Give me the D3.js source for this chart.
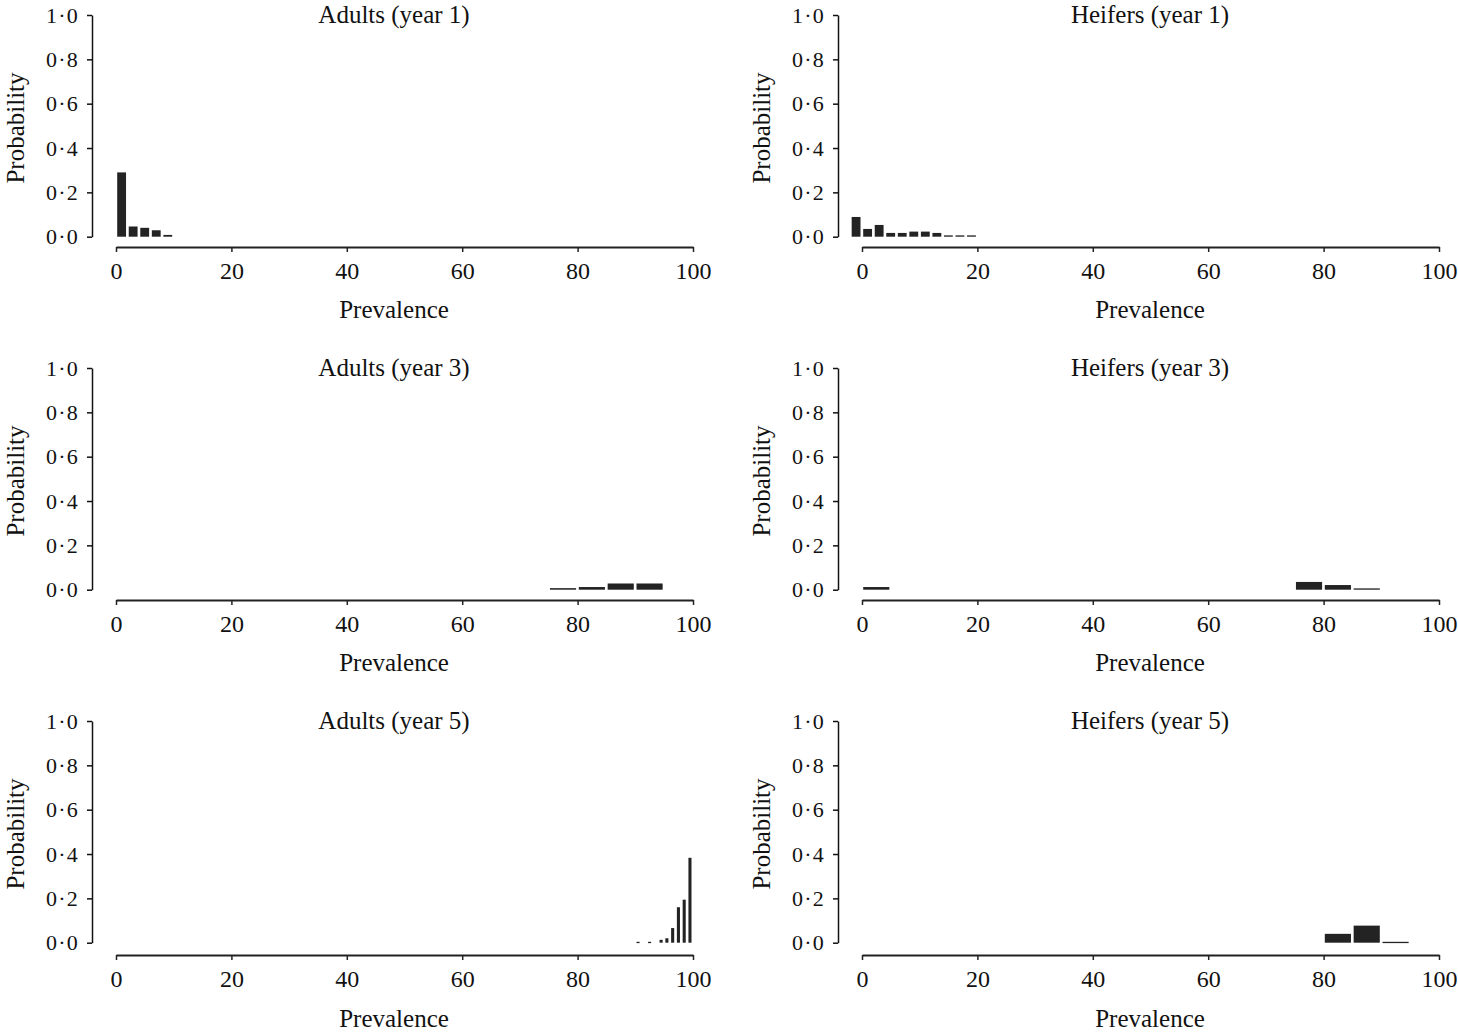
<!DOCTYPE html>
<html>
<head>
<meta charset="utf-8">
<script src="https://cdn.jsdelivr.net/npm/d3@7"></script>
<style>
  body { margin: 0; background: #fff; }
  text { font-family: "Liberation Serif", "Times New Roman", serif; fill: #111; }
</style>
</head>
<body>
<div class="wrapper"></div>
<script>
// bin start (prevalence %), bin width, probability
var adultsY1Bins = [0, 2, 4, 6, 8],
    adultsY1Prob = [0.29, 0.046, 0.04, 0.029, 0.008];
var heifersY1Bins = [-2, 0, 2, 4, 6, 8, 10, 12, 14, 16, 18],
    heifersY1Prob = [0.089, 0.035, 0.053, 0.017, 0.017, 0.023, 0.023, 0.017, 0.006, 0.006, 0.006];
var adultsY3Bins = [75, 80, 85, 90],
    adultsY3Prob = [0.007, 0.012, 0.028, 0.028];
var heifersY3Bins = [0, 75, 80, 85],
    heifersY3Prob = [0.012, 0.035, 0.021, 0.006];
var adultsY5Bins = [90, 92, 94, 95, 96, 97, 98, 99],
    adultsY5Prob = [0.004, 0.004, 0.013, 0.02, 0.066, 0.16, 0.194, 0.383];
var heifersY5Bins = [80, 85, 90],
    heifersY5Prob = [0.04, 0.077, 0.004];

var binWidths = [2, 2, 5, 5, 1, 5];
var titles = ["Adults (year 1)", "Heifers (year 1)", "Adults (year 3)",
              "Heifers (year 3)", "Adults (year 5)", "Heifers (year 5)"];
var xTicks = [0, 20, 40, 60, 80, 100],
    yTicks = [0, 0.2, 0.4, 0.6, 0.8, 1.0];

var panels = [
  [adultsY1Bins, adultsY1Prob], [heifersY1Bins, heifersY1Prob],
  [adultsY3Bins, adultsY3Prob], [heifersY3Bins, heifersY3Prob],
  [adultsY5Bins, adultsY5Prob], [heifersY5Bins, heifersY5Prob]
];

var w = 1458, h = 1034;
var fmt = function(v) { return d3.format(".1f")(v).replace(".", "\u00b7"); };

var svg = d3.select(".wrapper").append("svg")
    .attr("width", w)
    .attr("height", h);

panels.forEach(function(p, i) {
  var col = i % 2, row = Math.floor(i / 2);
  var dx = col * 746, dy = row * 353;
  var titleX = col ? 1150 : 394;

  var x = d3.scaleLinear().domain([0, 100]).range([116 + dx, 693 + dx]);
  var y = d3.scaleLinear().domain([0, 1]).range([236.7 + dy, 15 + dy]);

  var g = svg.append("g");

  // bars
  g.selectAll("rect")
      .data(p[0].map(function(b, k) { return { x0: b, x1: b + binWidths[i], v: p[1][k] }; }))
    .enter().append("rect")
      .attr("x", function(d) { return x(d.x0) + 1.2; })
      .attr("width", function(d) { return x(d.x1) - x(d.x0) - 2.7; })
      .attr("y", function(d) { return y(d.v); })
      .attr("height", function(d) { return Math.max(1.3, y(0) - y(d.v)); })
      .attr("fill", "#232323");

  // y axis
  var ya = g.append("g")
      .attr("transform", "translate(" + (92 + dx) + ",0)")
      .call(d3.axisLeft(y).tickValues(yTicks).tickFormat(fmt).tickSize(5).tickSizeOuter(0).tickPadding(8));
  ya.select(".domain").attr("stroke", "#111").attr("stroke-width", 1.5);
  ya.selectAll(".tick line").attr("stroke", "#111").attr("stroke-width", 1.5);
  ya.selectAll("text").style("font-size", "22px").style("letter-spacing", "1.2px")
      .attr("fill", "#111").style("font-family", "'Liberation Serif', serif");

  // x axis
  var xa = g.append("g")
      .attr("transform", "translate(0," + (247 + dy + (row == 2 ? 2 : 0)) + ")")
      .call(d3.axisBottom(x).tickValues(xTicks).tickSize(5).tickSizeOuter(0).tickPadding(10));
  xa.select(".domain").attr("stroke", "#222").attr("stroke-width", 2);
  xa.selectAll(".tick line").attr("stroke", "#222").attr("stroke-width", 1.5);
  xa.selectAll("text").style("font-size", "24px").attr("fill", "#111")
      .style("font-family", "'Liberation Serif', serif");

  g.append("text")
      .attr("x", titleX).attr("y", 23 + dy)
      .attr("text-anchor", "middle")
      .style("font-size", "25px")
      .text(titles[i]);

  g.append("text")
      .attr("x", titleX).attr("y", 318 + dy + (row == 2 ? 3 : 0))
      .attr("text-anchor", "middle")
      .style("font-size", "25px")
      .text("Prevalence");

  g.append("text")
      .attr("transform", "translate(" + (24 + dx) + "," + (128 + dy) + ") rotate(-90)")
      .attr("text-anchor", "middle")
      .style("font-size", "25px")
      .text("Probability");
});
</script>
</body>
</html>
